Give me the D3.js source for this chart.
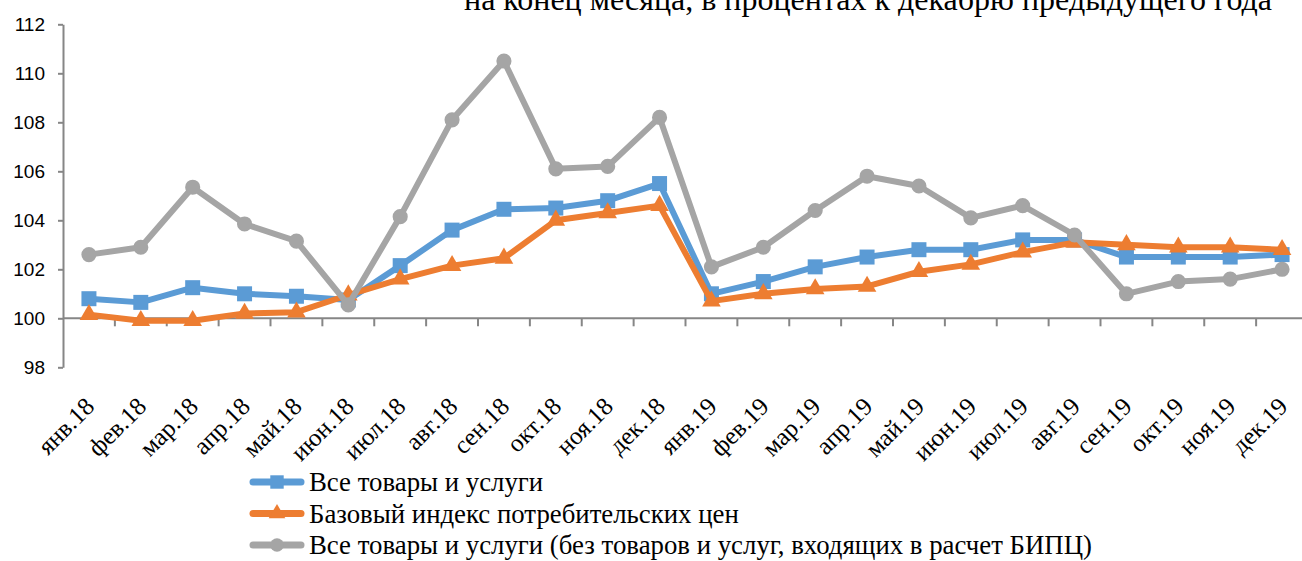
<!DOCTYPE html>
<html>
<head>
<meta charset="utf-8">
<script src="https://cdn.jsdelivr.net/npm/d3@7/dist/d3.min.js"></script>
<style>
  html, body { margin: 0; padding: 0; background: #fff; }
  svg { display: block; }
  .chart__title { font-family: "Liberation Serif", "Times New Roman", serif; font-size: 32px; fill: #000; }
  .chart__text--y { font-family: "Liberation Sans", Arial, sans-serif; font-size: 19px; fill: #000; }
  .chart__text--x { font-family: "Liberation Serif", "Times New Roman", serif; font-size: 25px; fill: #000; }
  .chart__legend { font-family: "Liberation Serif", "Times New Roman", serif; font-size: 26.8px; fill: #000; }
</style>
</head>
<body>
<div id="chart"></div>
<script>
// Categories (months)
const months = [
  "янв.18", "фев.18", "мар.18", "апр.18", "май.18", "июн.18",
  "июл.18", "авг.18", "сен.18", "окт.18", "ноя.18", "дек.18",
  "янв.19", "фев.19", "мар.19", "апр.19", "май.19", "июн.19",
  "июл.19", "авг.19", "сен.19", "окт.19", "ноя.19", "дек.19"
];

// Series values, % to December of previous year
const allGoods = [
  100.8, 100.65, 101.25, 101.0, 100.9, 100.75,
  102.15, 103.6, 104.45, 104.5, 104.8, 105.5,
  101.0, 101.5, 102.1, 102.5, 102.8, 102.8,
  103.2, 103.2, 102.5, 102.5, 102.5, 102.6
];
const coreIndex = [
  100.15, 99.9, 99.9, 100.2, 100.25, 100.95,
  101.6, 102.15, 102.45, 104.0, 104.3, 104.6,
  100.7, 101.0, 101.2, 101.3, 101.9, 102.2,
  102.7, 103.1, 103.0, 102.9, 102.9, 102.8
];
const nonCore = [
  102.6, 102.9, 105.35, 103.85, 103.15, 100.55,
  104.15, 108.1, 110.5, 106.1, 106.2, 108.2,
  102.1, 102.9, 104.4, 105.8, 105.4, 104.1,
  104.6, 103.4, 101.0, 101.5, 101.6, 102.0
];

// Tick labels of the value axis
const yTicks = [98, 100, 102, 104, 106, 108, 110, 112];

const seriesNames = [
  "Все товары и услуги",
  "Базовый индекс потребительских цен",
  "Все товары и услуги (без товаров и услуг, входящих в расчет БИПЦ)"
];

const titleText = "на конец месяца, в процентах к декабрю предыдущего года";

const W = 1302, H = 561;
const colors = ["#5B9BD5", "#ED7D31", "#A5A5A5"];
const markers = [d3.symbolSquare, d3.symbolTriangle, d3.symbolCircle];
const markerSize = [225, 150, 180];
const axisColor = "#868686";

const series = [allGoods, coreIndex, nonCore].map((values, i) => ({
  name: seriesNames[i],
  color: colors[i],
  marker: markers[i],
  size: markerSize[i],
  points: values.map((v, j) => ({ x: months[j], y: v }))
}));

const svg = d3.select("#chart")
  .append("svg")
  .attr("width", W)
  .attr("height", H);

// Scales: the plot area runs past the right edge of the picture
const x = d3.scalePoint()
  .domain(months)
  .range([63, 1308])
  .padding(0.5);

const y = d3.scaleLinear()
  .domain([98, 112])
  .range([367.3, 24.3]);

// Title (cut at the top of the picture)
svg.append("text")
  .attr("class", "chart__title")
  .attr("x", 1272)
  .attr("y", 10)
  .attr("text-anchor", "end")
  .text(titleText);

// Y axis
const gY = svg.append("g")
  .attr("transform", "translate(" + x.range()[0] + ",0)")
  .call(d3.axisLeft(y).tickValues(yTicks).tickSize(5).tickSizeOuter(0).tickPadding(13));
gY.select(".domain").attr("stroke", axisColor).attr("stroke-width", 2);
gY.selectAll(".tick line").attr("stroke", axisColor).attr("stroke-width", 2);
gY.selectAll(".tick text")
  .attr("class", "chart__text--y")
  .attr("font-family", null)
  .attr("font-size", null);

// X axis (crosses at 100), ticks between categories
const step = x.step();
const gX = svg.append("g")
  .attr("transform", "translate(0," + y(100) + ")");
gX.append("line")
  .attr("x1", x.range()[0])
  .attr("x2", x.range()[1])
  .attr("stroke", axisColor)
  .attr("stroke-width", 2);
gX.selectAll(".chart__tick")
  .data(months)
  .enter()
  .append("line")
  .attr("class", "chart__tick")
  .attr("x1", d => x(d) + step / 2)
  .attr("x2", d => x(d) + step / 2)
  .attr("y1", 0)
  .attr("y2", 8)
  .attr("stroke", axisColor)
  .attr("stroke-width", 2);

// Rotated category labels
svg.append("g")
  .selectAll("text")
  .data(months)
  .enter()
  .append("text")
  .attr("class", "chart__text--x")
  .attr("text-anchor", "end")
  .attr("transform", d => "translate(" + (x(d) + 7) + "," + 408 + ") rotate(-45)")
  .text(d => d);

// Lines and markers
const line = d3.line()
  .x(d => x(d.x))
  .y(d => y(d.y));

series.forEach(s => {
  const g = svg.append("g");
  g.append("path")
    .attr("d", line(s.points))
    .attr("fill", "none")
    .attr("stroke", s.color)
    .attr("stroke-width", 6)
    .attr("stroke-linejoin", "round")
    .attr("stroke-linecap", "round");
  g.selectAll("path.chart__dot")
    .data(s.points)
    .enter()
    .append("path")
    .attr("class", "chart__dot")
    .attr("d", d3.symbol().type(s.marker).size(s.size))
    .attr("transform", d => "translate(" + x(d.x) + "," + y(d.y) + ")")
    .attr("fill", s.color);
});

// Legend
const legend = svg.append("g")
  .attr("transform", "translate(249,482)");
series.forEach((s, i) => {
  const row = legend.append("g")
    .attr("transform", "translate(0," + (i * 31.5) + ")");
  row.append("line")
    .attr("x1", 4).attr("x2", 52)
    .attr("stroke", s.color)
    .attr("stroke-width", 7)
    .attr("stroke-linecap", "round");
  row.append("path")
    .attr("d", d3.symbol().type(s.marker).size(s.size * 0.8))
    .attr("transform", "translate(28,0)")
    .attr("fill", s.color);
  row.append("text")
    .attr("class", "chart__legend")
    .attr("x", 60)
    .attr("y", 9)
    .text(s.name);
});
</script>
</body>
</html>
